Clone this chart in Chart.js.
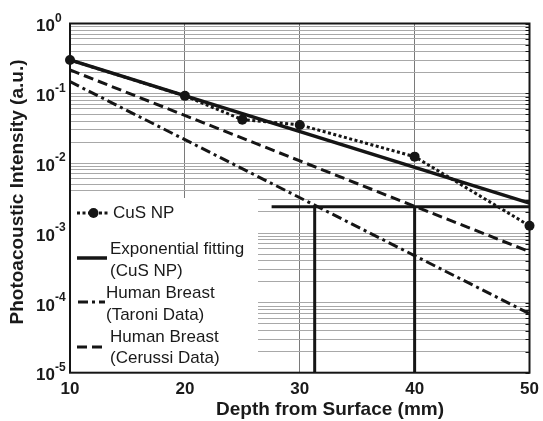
<!DOCTYPE html>
<html>
<head>
<meta charset="utf-8">
<script src="https://cdn.jsdelivr.net/npm/chart.js@4.4.1/dist/chart.umd.min.js"></script>
<style>
  html, body { margin: 0; padding: 0; background: #fff; }
</style>
</head>
<body>
<canvas id="paChart" width="543" height="421"></canvas>
<script>
// measured points (CuS NP)
const depthPoints = [10, 20, 25, 30, 40, 50];
const cusValues = [0.30, 0.092, 0.042, 0.0353, 0.0124, 0.00127];
// straight lines in log space, end points only
const lineDepths = [10, 50];
const fitValues = [0.30, 0.00268];
const taroniValues = [0.147, 0.00007];
const cerussiValues = [0.216, 0.00054];
// detection threshold and the two depths it reaches
const thresholdDepths = [27.55, 50];
const thresholdLevel = 0.00237;
const taroniDepth = 31.3;
const cerussiDepth = 40;
const yFloor = 1e-5;
// ticks
const xTickLabels = [10, 20, 30, 40, 50];
const yTickExponents = [0, -1, -2, -3, -4, -5];
const legendLabels = [
  ['CuS NP'],
  ['Exponential fitting', '(CuS NP)'],
  ['Human Breast', '(Taroni Data)'],
  ['Human Breast', '(Cerussi Data)']
];

const ink = '#151515';
const pts = (xs, ys) => xs.map((x, i) => ({ x: x, y: ys[i] }));

const cusSet = {
  data: pts(depthPoints, cusValues),
  borderColor: ink, backgroundColor: ink,
  borderWidth: 3, borderDash: [3, 2.5],
  pointRadius: 5, pointBackgroundColor: ink, pointBorderWidth: 0,
  clip: false
};
const fitSet = {
  data: pts(lineDepths, fitValues),
  borderColor: ink, borderWidth: 3.5, pointRadius: 0
};
const taroniSet = {
  data: pts(lineDepths, taroniValues),
  borderColor: ink, borderWidth: 3, borderDash: [10, 4, 3, 4], pointRadius: 0
};
const cerussiSet = {
  data: pts(lineDepths, cerussiValues),
  borderColor: ink, borderWidth: 3, borderDash: [10, 5], pointRadius: 0
};
const thresholdSet = {
  data: pts(thresholdDepths, [thresholdLevel, thresholdLevel]),
  borderColor: ink, borderWidth: 3, pointRadius: 0
};
const taroniDrop = {
  data: pts([taroniDepth, taroniDepth], [thresholdLevel, yFloor]),
  borderColor: ink, borderWidth: 3, pointRadius: 0
};
const cerussiDrop = {
  data: pts([cerussiDepth, cerussiDepth], [thresholdLevel, yFloor]),
  borderColor: ink, borderWidth: 3, pointRadius: 0
};

const legendStyles = [cusSet, fitSet, taroniSet, cerussiSet];

const paperPlugin = {
  id: 'paper',
  beforeDatasetsDraw(chart) {
    const ctx = chart.ctx, a = chart.chartArea;
    // white legend panel covering the grid
    ctx.save();
    ctx.fillStyle = '#fff';
    ctx.fillRect(a.left, 198, 258 - a.left, a.bottom - 198);
    ctx.restore();
  },
  afterDraw(chart) {
    const ctx = chart.ctx, a = chart.chartArea;
    const xs = chart.scales.x, ys = chart.scales.y;
    ctx.save();

    // frame
    ctx.strokeStyle = ink;
    ctx.lineWidth = 2;
    ctx.strokeRect(a.left, a.top, a.right - a.left, a.bottom - a.top);

    // small inward ticks on the right edge
    ctx.lineWidth = 1;
    ys.ticks.forEach(t => {
      const y = Math.round(ys.getPixelForValue(t.value)) + 0.5;
      ctx.beginPath();
      ctx.moveTo(a.right - 4, y);
      ctx.lineTo(a.right, y);
      ctx.stroke();
    });

    ctx.fillStyle = '#1a1a1a';
    ctx.textBaseline = 'middle';

    // y tick labels 10^n
    yTickExponents.forEach(e => {
      const y = ys.getPixelForValue(Math.pow(10, e));
      ctx.font = 'bold 17px "Liberation Sans", Arial, sans-serif';
      ctx.textAlign = 'left';
      ctx.fillText('10', 36, y + 3);
      const w = ctx.measureText('10').width;
      ctx.font = 'bold 12px "Liberation Sans", Arial, sans-serif';
      ctx.fillText(String(e), 36 + w, y - 5);
    });

    // x tick labels
    ctx.font = 'bold 17px "Liberation Sans", Arial, sans-serif';
    ctx.textAlign = 'center';
    xTickLabels.forEach(v => {
      ctx.fillText(String(v), xs.getPixelForValue(v), 389);
    });

    // axis titles
    ctx.font = 'bold 19px "Liberation Sans", Arial, sans-serif';
    ctx.fillText('Depth from Surface (mm)', 330, 410);
    ctx.save();
    ctx.translate(18, 192);
    ctx.rotate(-Math.PI / 2);
    ctx.fillText('Photoacoustic Intensity (a.u.)', 0, 0);
    ctx.restore();

    // legend
    const rows = [
      { y: 213, x0: 77, x1: 110, tx: 113, ty: [213] },
      { y: 258, x0: 77, x1: 107, tx: 110, ty: [249, 271] },
      { y: 302, x0: 78, x1: 105, tx: 106, ty: [293, 315] },
      { y: 347, x0: 77, x1: 107, tx: 110, ty: [337, 358] }
    ];
    rows.forEach((r, i) => {
      const st = legendStyles[i];
      ctx.save();
      ctx.strokeStyle = ink;
      ctx.lineWidth = st.borderWidth;
      ctx.setLineDash(st.borderDash || []);
      ctx.beginPath();
      ctx.moveTo(r.x0, r.y);
      ctx.lineTo(r.x1, r.y);
      ctx.stroke();
      if (st.pointRadius) {
        ctx.fillStyle = ink;
        ctx.beginPath();
        ctx.arc((r.x0 + r.x1) / 2, r.y, st.pointRadius, 0, Math.PI * 2);
        ctx.fill();
      }
      ctx.restore();
      ctx.font = '17px "Liberation Sans", Arial, sans-serif';
      ctx.textAlign = 'left';
      legendLabels[i].forEach((txt, j) => ctx.fillText(txt, r.tx, r.ty[j]));
    });

    ctx.restore();
  }
};

new Chart(document.getElementById('paChart'), {
  type: 'line',
  data: {
    datasets: [cusSet, fitSet, taroniSet, cerussiSet, thresholdSet, taroniDrop, cerussiDrop]
  },
  options: {
    responsive: false,
    devicePixelRatio: 1,
    animation: false,
    layout: { padding: { top: 23.5, right: 13.5, left: 0, bottom: 0 } },
    plugins: { legend: { display: false }, tooltip: { enabled: false } },
    scales: {
      x: {
        type: 'linear', min: 10, max: 50,
        ticks: { display: false, stepSize: 10 },
        grid: { color: '#7a7a7a', lineWidth: 1, drawTicks: false },
        border: { display: false },
        afterFit: s => { s.height = 48.3; }
      },
      y: {
        type: 'logarithmic', min: 1e-5, max: 1,
        ticks: { display: false, autoSkip: false },
        grid: { color: '#a8a8a8', lineWidth: 1, drawTicks: false },
        border: { display: false },
        afterBuildTicks: s => {
          const t = [];
          for (let e = -5; e < 0; e++) {
            for (let m = 1; m < 10; m++) t.push({ value: m * Math.pow(10, e) });
          }
          t.push({ value: 1 });
          s.ticks = t;
        },
        afterFit: s => { s.width = 70; }
      }
    }
  },
  plugins: [paperPlugin]
});
</script>
</body>
</html>
